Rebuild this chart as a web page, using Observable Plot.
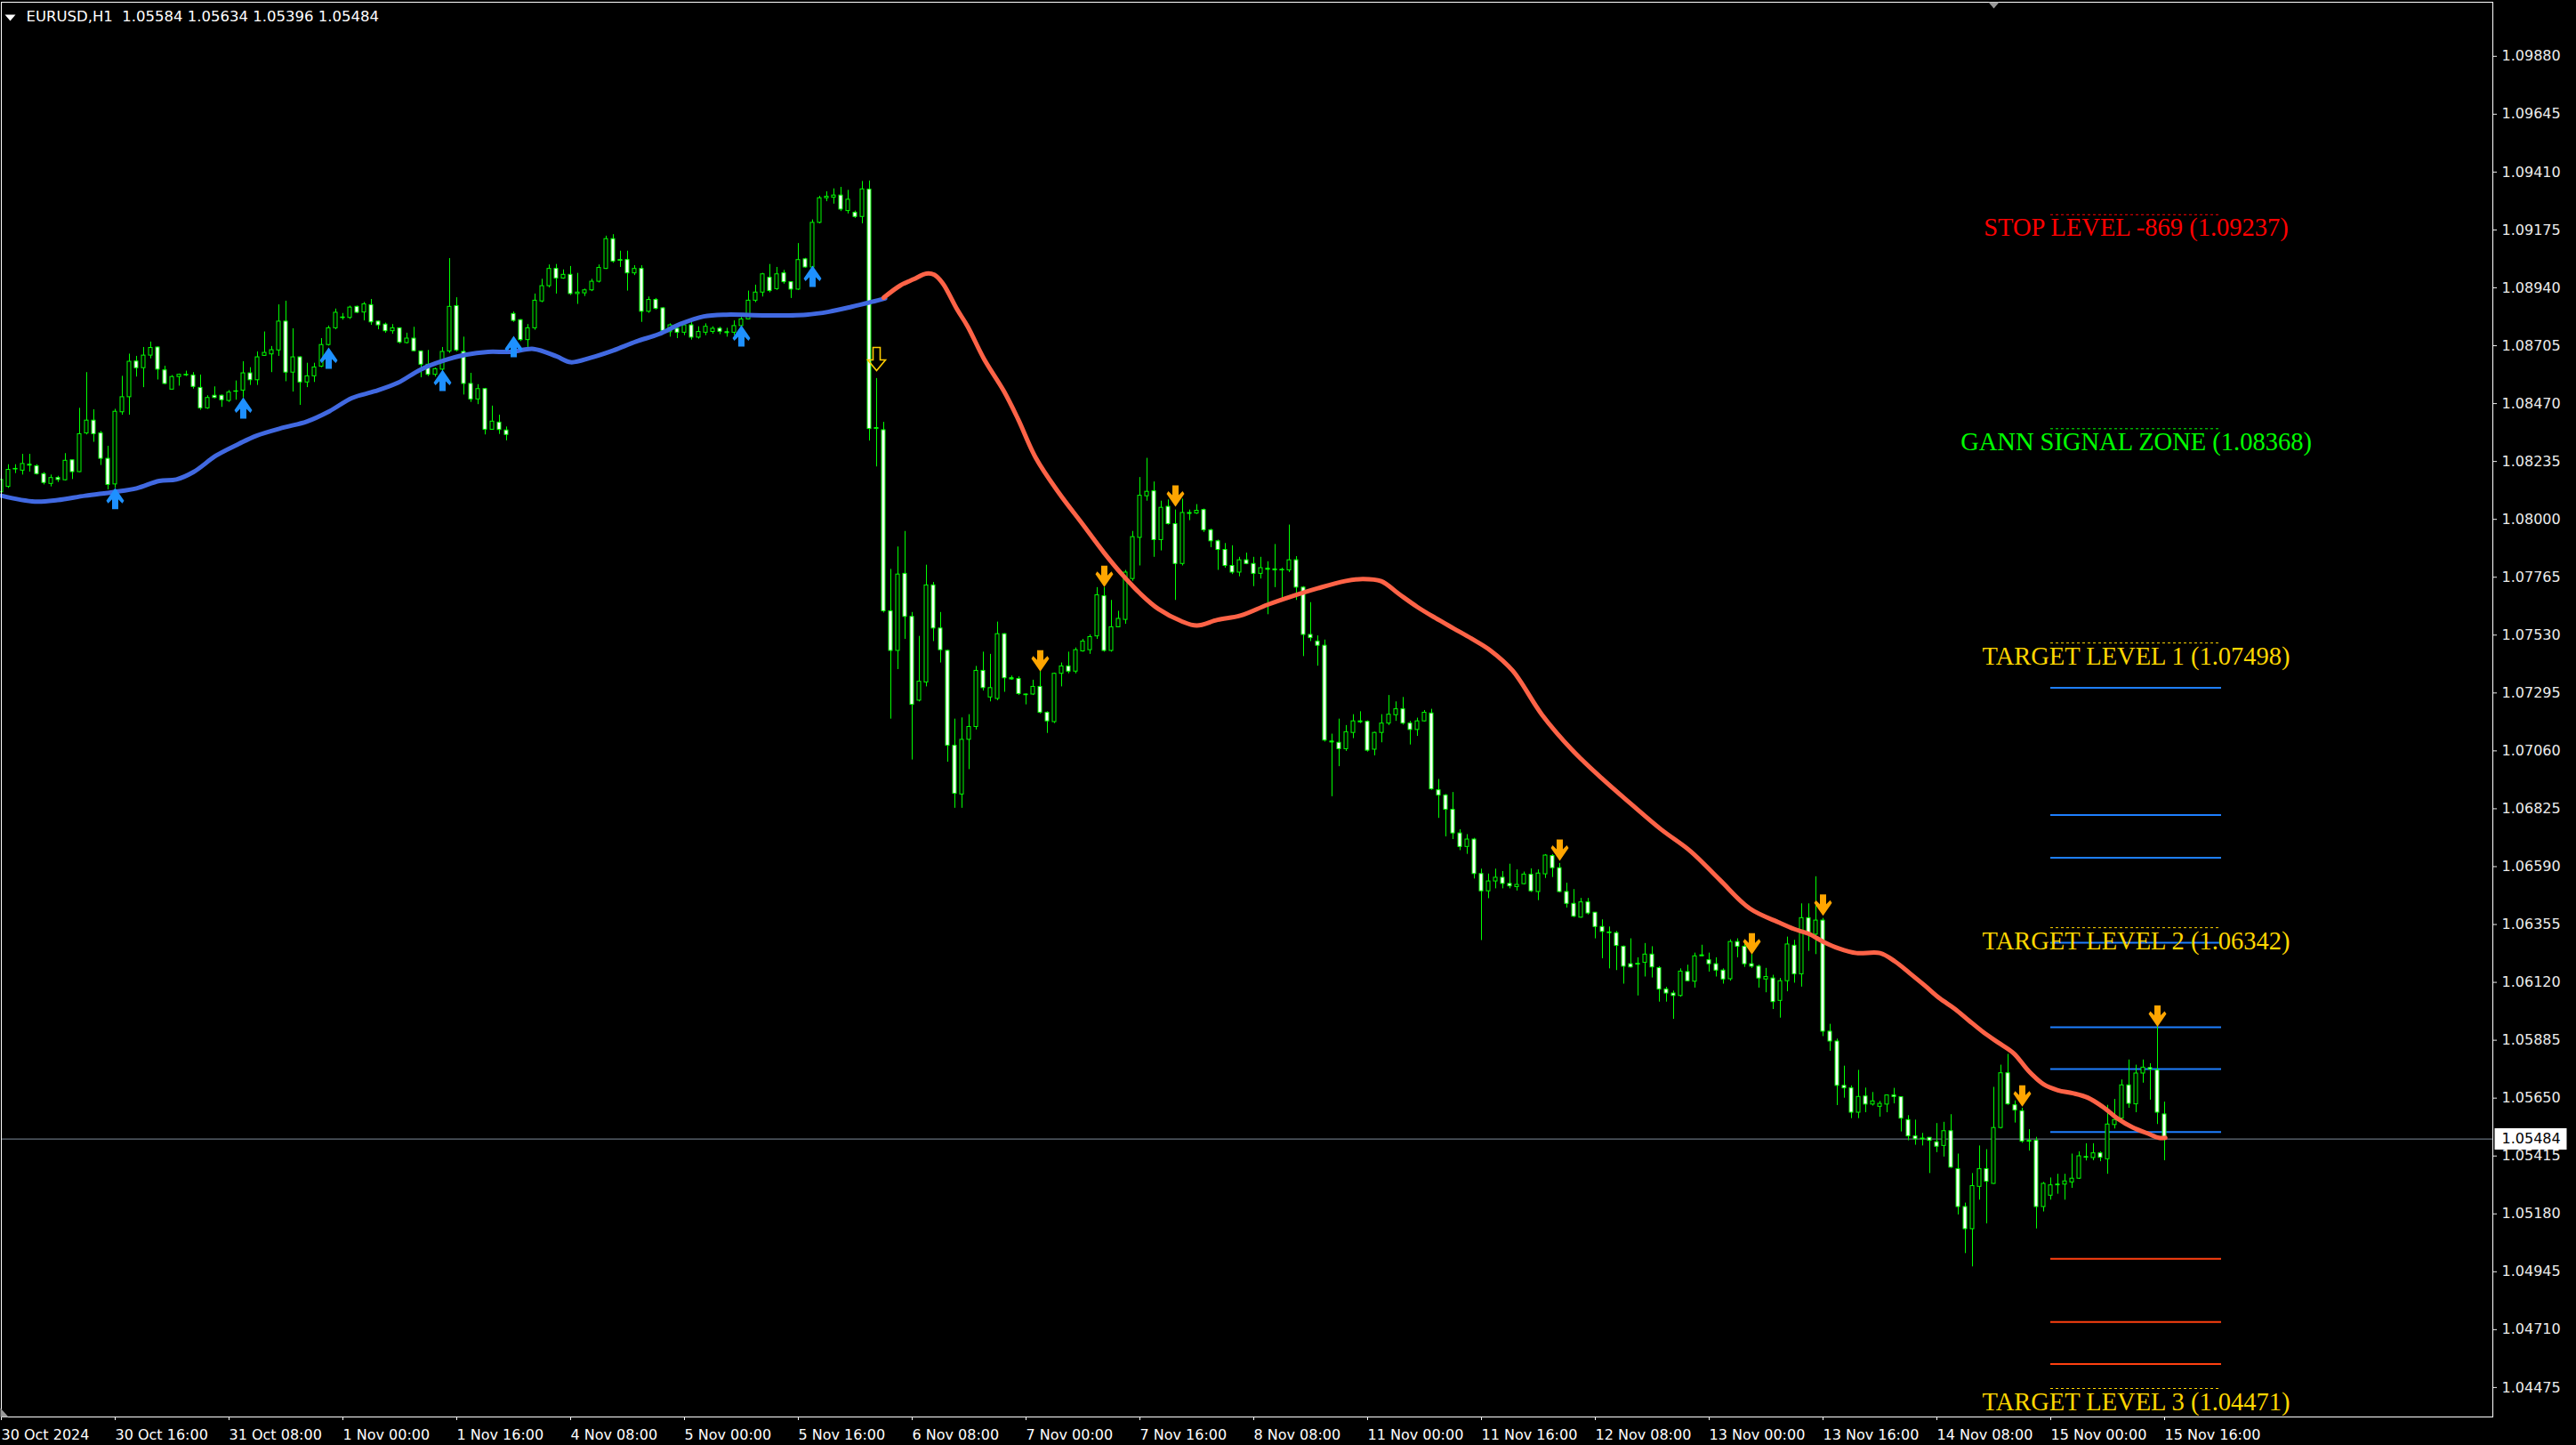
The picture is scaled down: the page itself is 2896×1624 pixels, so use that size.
<!DOCTYPE html>
<html><head><meta charset="utf-8">
<script src="https://cdn.jsdelivr.net/npm/d3@7"></script>
<script src="https://cdn.jsdelivr.net/npm/@observablehq/plot@0.6"></script>
<style>html,body{margin:0;padding:0;background:#000;overflow:hidden}</style>
</head><body><div id="chart"></div>
<script>
const symbolName = "EURUSD,H1";

const opens = [
1.08110,1.08132,1.08204,1.08198,1.08222,1.08216,1.08184,1.08144,1.08168,1.08159,
1.08240,1.08192,1.08349,1.08401,1.08349,1.08246,1.08142,1.08435,1.08496,1.08641,
1.08614,1.08665,1.08698,1.08605,1.08527,1.08578,1.08586,1.08584,1.08534,1.08451,
1.08502,1.08502,1.08481,1.08519,1.08523,1.08593,1.08565,1.08664,1.08670,1.08686,
1.08803,1.08596,1.08658,1.08556,1.08581,1.08620,1.08708,1.08776,1.08818,1.08818,
1.08863,1.08840,1.08870,1.08803,1.08791,1.08764,1.08776,1.08716,1.08734,1.08682,
1.08628,1.08587,1.08608,1.08682,1.08866,1.08680,1.08550,1.08487,1.08529,1.08364,
1.08393,1.08361,1.08834,1.08809,1.08728,1.08776,1.08885,1.08947,1.09017,1.08978,
1.08993,1.08915,1.08918,1.08930,1.08965,1.09017,1.09138,1.09050,1.09053,1.08999,
1.09017,1.08843,1.08891,1.08857,1.08760,1.08774,1.08758,1.08788,1.08738,1.08758,
1.08761,1.08774,1.08760,1.08758,1.08785,1.08812,1.08888,1.08921,1.08981,1.08935,
1.08999,1.08963,1.08933,1.09056,1.09023,1.09204,1.09304,1.09306,1.09315,1.09252,
1.09245,1.09228,1.09339,1.08367,1.08362,1.07627,1.07466,1.07779,1.07604,1.07264,
1.07338,1.07732,1.07557,1.07466,1.07081,1.06883,1.07105,1.07157,1.07385,1.07277,
1.07271,1.07534,1.07355,1.07352,1.07289,1.07289,1.07320,1.07215,1.07177,1.07373,
1.07403,1.07382,1.07464,1.07469,1.07525,1.07688,1.07466,1.07562,1.07592,1.07758,
1.07925,1.08094,1.08114,1.07916,1.08051,1.07981,1.07819,1.08026,1.08024,1.08038,
1.07956,1.07911,1.07876,1.07811,1.07784,1.07834,1.07819,1.07779,1.07800,1.07797,
1.07793,1.07793,1.07834,1.07723,1.07531,1.07504,1.07487,1.07098,1.07093,1.07067,
1.07133,1.07180,1.07178,1.07065,1.07133,1.07171,1.07205,1.07229,1.07171,1.07145,
1.07180,1.07212,1.06900,1.06879,1.06821,1.06725,1.06670,1.06700,1.06560,1.06490,
1.06530,1.06545,1.06520,1.06507,1.06519,1.06557,1.06487,1.06559,1.06633,1.06584,
1.06487,1.06439,1.06383,1.06445,1.06403,1.06345,1.06323,1.06320,1.06265,1.06194,
1.06196,1.06200,1.06233,1.06178,1.06091,1.06075,1.06065,1.06162,1.06123,1.06230,
1.06210,1.06194,1.06168,1.06133,1.06284,1.06265,1.06194,1.06184,1.06132,1.06136,
1.06045,1.06125,1.06269,1.06153,1.06381,1.06314,1.06371,1.05920,1.05880,1.05700,
1.05690,1.05591,1.05657,1.05624,1.05615,1.05624,1.05661,1.05654,1.05561,1.05495,
1.05486,1.05489,1.05471,1.05456,1.05516,1.05362,1.05208,1.05118,1.05290,1.05362,
1.05302,1.05529,1.05751,1.05621,1.05597,1.05477,1.05477,1.05208,1.05254,1.05299,
1.05299,1.05308,1.05323,1.05411,1.05407,1.05426,1.05402,1.05541,1.05567,1.05702,
1.05625,1.05750,1.05772,1.05763,1.05584];

const highs = [
1.08185,1.08222,1.08222,1.08264,1.08264,1.08222,1.08190,1.08180,1.08175,1.08267,
1.08240,1.08451,1.08596,1.08445,1.08357,1.08297,1.08447,1.08581,1.08671,1.08662,
1.08698,1.08720,1.08700,1.08622,1.08584,1.08590,1.08602,1.08596,1.08586,1.08502,
1.08538,1.08505,1.08523,1.08562,1.08640,1.08616,1.08680,1.08761,1.08702,1.08871,
1.08886,1.08774,1.08660,1.08634,1.08634,1.08734,1.08785,1.08854,1.08836,1.08866,
1.08866,1.08881,1.08893,1.08805,1.08797,1.08791,1.08778,1.08756,1.08780,1.08684,
1.08686,1.08614,1.08698,1.09059,1.08900,1.08740,1.08593,1.08547,1.08532,1.08460,
1.08423,1.08375,1.08842,1.08811,1.08791,1.08915,1.08975,1.09033,1.09035,1.09013,
1.09027,1.08999,1.08935,1.08975,1.09033,1.09150,1.09156,1.09089,1.09089,1.09030,
1.09030,1.08903,1.08897,1.08860,1.08794,1.08788,1.08800,1.08800,1.08782,1.08794,
1.08782,1.08780,1.08776,1.08806,1.08820,1.08927,1.08951,1.08999,1.09035,1.09023,
1.09011,1.08965,1.09120,1.09060,1.09216,1.09312,1.09330,1.09342,1.09348,1.09336,
1.09252,1.09372,1.09374,1.08572,1.08394,1.07797,1.07888,1.07951,1.07622,1.07525,
1.07814,1.07744,1.07622,1.07469,1.07189,1.07194,1.07207,1.07403,1.07461,1.07452,
1.07583,1.07536,1.07364,1.07361,1.07291,1.07347,1.07382,1.07219,1.07376,1.07417,
1.07461,1.07478,1.07513,1.07531,1.07723,1.07723,1.07671,1.07627,1.07793,1.07951,
1.08170,1.08248,1.08152,1.08074,1.08079,1.08038,1.08082,1.08038,1.08060,1.08042,
1.07960,1.07916,1.07902,1.07893,1.07846,1.07863,1.07846,1.07846,1.07828,1.07898,
1.07802,1.07977,1.07849,1.07727,1.07662,1.07527,1.07510,1.07128,1.07189,1.07163,
1.07207,1.07219,1.07182,1.07136,1.07207,1.07285,1.07259,1.07277,1.07180,1.07193,
1.07224,1.07229,1.06944,1.06883,1.06891,1.06740,1.06720,1.06705,1.06580,1.06560,
1.06580,1.06570,1.06600,1.06577,1.06568,1.06581,1.06577,1.06639,1.06639,1.06603,
1.06523,1.06497,1.06461,1.06461,1.06404,1.06374,1.06345,1.06327,1.06268,1.06297,
1.06220,1.06278,1.06265,1.06184,1.06100,1.06085,1.06175,1.06190,1.06239,1.06271,
1.06239,1.06220,1.06175,1.06293,1.06297,1.06278,1.06233,1.06190,1.06177,1.06149,
1.06136,1.06304,1.06291,1.06439,1.06439,1.06549,1.06380,1.05950,1.05890,1.05780,
1.05700,1.05763,1.05691,1.05673,1.05637,1.05663,1.05690,1.05655,1.05579,1.05561,
1.05507,1.05489,1.05547,1.05552,1.05583,1.05423,1.05224,1.05344,1.05456,1.05441,
1.05694,1.05784,1.05828,1.05639,1.05609,1.05522,1.05491,1.05308,1.05326,1.05341,
1.05341,1.05423,1.05432,1.05465,1.05465,1.05432,1.05621,1.05645,1.05724,1.05805,
1.05784,1.05805,1.05790,1.05940,1.05634];

const lows = [
1.08095,1.08126,1.08186,1.08180,1.08192,1.08180,1.08140,1.08132,1.08150,1.08156,
1.08162,1.08190,1.08343,1.08313,1.08219,1.08120,1.08126,1.08423,1.08423,1.08578,
1.08535,1.08652,1.08566,1.08547,1.08527,1.08541,1.08580,1.08529,1.08443,1.08447,
1.08490,1.08455,1.08475,1.08484,1.08493,1.08544,1.08544,1.08662,1.08596,1.08662,
1.08559,1.08517,1.08463,1.08535,1.08556,1.08616,1.08704,1.08770,1.08809,1.08812,
1.08836,1.08806,1.08788,1.08770,1.08756,1.08752,1.08712,1.08712,1.08680,1.08575,
1.08580,1.08578,1.08602,1.08674,1.08680,1.08505,1.08475,1.08466,1.08343,1.08363,
1.08345,1.08319,1.08800,1.08722,1.08698,1.08768,1.08880,1.08940,1.08915,1.08975,
1.08909,1.08873,1.08905,1.08925,1.08960,1.09015,1.09040,1.09023,1.08927,1.08990,
1.08800,1.08837,1.08850,1.08760,1.08740,1.08734,1.08746,1.08728,1.08732,1.08746,
1.08752,1.08750,1.08740,1.08746,1.08785,1.08810,1.08880,1.08903,1.08920,1.08930,
1.08955,1.08897,1.08930,1.09020,1.09023,1.09200,1.09290,1.09280,1.09250,1.09240,
1.09222,1.09200,1.08318,1.08213,1.07620,1.07189,1.07390,1.07513,1.07023,1.07259,
1.07320,1.07504,1.07417,1.07014,1.06827,1.06827,1.06984,1.07145,1.07303,1.07259,
1.07264,1.07298,1.07347,1.07285,1.07247,1.07285,1.07210,1.07131,1.07171,1.07320,
1.07373,1.07373,1.07461,1.07452,1.07513,1.07461,1.07461,1.07560,1.07574,1.07749,
1.07811,1.08074,1.07846,1.07872,1.07977,1.07671,1.07811,1.07995,1.08020,1.07947,
1.07885,1.07793,1.07802,1.07776,1.07767,1.07816,1.07727,1.07758,1.07613,1.07723,
1.07679,1.07784,1.07671,1.07443,1.07504,1.07404,1.07096,1.06874,1.06996,1.07058,
1.07110,1.07171,1.07055,1.07040,1.07093,1.07163,1.07180,1.07165,1.07084,1.07119,
1.07178,1.06900,1.06786,1.06711,1.06700,1.06655,1.06640,1.06540,1.06290,1.06460,
1.06500,1.06500,1.06500,1.06491,1.06516,1.06485,1.06452,1.06542,1.06546,1.06484,
1.06422,1.06383,1.06381,1.06394,1.06297,1.06216,1.06175,1.06168,1.06113,1.06178,
1.06065,1.06142,1.06138,1.06040,1.06040,1.05970,1.06060,1.06123,1.06097,1.06226,
1.06162,1.06142,1.06113,1.06125,1.06220,1.06181,1.06177,1.06097,1.06078,1.06010,
1.05975,1.06082,1.06117,1.06101,1.06246,1.06233,1.05900,1.05840,1.05620,1.05650,
1.05567,1.05567,1.05591,1.05618,1.05573,1.05591,1.05627,1.05513,1.05477,1.05459,
1.05456,1.05344,1.05429,1.05411,1.05365,1.05176,1.05019,1.04965,1.05236,1.05140,
1.05300,1.05525,1.05621,1.05549,1.05467,1.05435,1.05119,1.05188,1.05236,1.05260,
1.05236,1.05284,1.05320,1.05395,1.05396,1.05392,1.05341,1.05525,1.05549,1.05609,
1.05591,1.05711,1.05642,1.05543,1.05396];

const closes = [
1.08160,1.08201,1.08205,1.08225,1.08220,1.08184,1.08148,1.08168,1.08160,1.08238,
1.08192,1.08346,1.08401,1.08346,1.08246,1.08140,1.08437,1.08496,1.08640,1.08614,
1.08665,1.08696,1.08608,1.08550,1.08578,1.08587,1.08587,1.08538,1.08451,1.08493,
1.08493,1.08484,1.08515,1.08520,1.08593,1.08565,1.08658,1.08676,1.08687,1.08803,
1.08596,1.08658,1.08556,1.08581,1.08617,1.08708,1.08776,1.08839,1.08820,1.08860,
1.08839,1.08873,1.08800,1.08788,1.08764,1.08776,1.08718,1.08734,1.08683,1.08628,
1.08587,1.08610,1.08680,1.08863,1.08686,1.08550,1.08487,1.08529,1.08364,1.08397,
1.08363,1.08343,1.08806,1.08728,1.08776,1.08888,1.08947,1.09017,1.08978,1.08993,
1.08915,1.08921,1.08930,1.08965,1.09021,1.09138,1.09047,1.09053,1.08999,1.09017,
1.08843,1.08891,1.08855,1.08765,1.08788,1.08758,1.08788,1.08738,1.08761,1.08782,
1.08774,1.08762,1.08758,1.08785,1.08812,1.08888,1.08921,1.08995,1.08927,1.08995,
1.08963,1.08933,1.09053,1.09023,1.09204,1.09304,1.09310,1.09315,1.09258,1.09298,
1.09228,1.09340,1.08367,1.08371,1.07627,1.07466,1.07776,1.07604,1.07247,1.07341,
1.07732,1.07557,1.07469,1.07081,1.06886,1.07105,1.07157,1.07385,1.07315,1.07315,
1.07534,1.07355,1.07352,1.07291,1.07288,1.07320,1.07215,1.07180,1.07373,1.07403,
1.07382,1.07469,1.07504,1.07522,1.07692,1.07466,1.07562,1.07596,1.07784,1.07928,
1.08096,1.08112,1.07916,1.08047,1.07981,1.07819,1.08026,1.08024,1.08035,1.07956,
1.07911,1.07876,1.07811,1.07784,1.07834,1.07819,1.07779,1.07802,1.07797,1.07793,
1.07795,1.07834,1.07723,1.07531,1.07518,1.07487,1.07102,1.07096,1.07067,1.07136,
1.07180,1.07178,1.07061,1.07133,1.07171,1.07207,1.07229,1.07171,1.07145,1.07180,
1.07215,1.06904,1.06879,1.06821,1.06725,1.06670,1.06700,1.06560,1.06490,1.06530,
1.06545,1.06520,1.06510,1.06516,1.06558,1.06490,1.06562,1.06635,1.06584,1.06487,
1.06439,1.06387,1.06445,1.06400,1.06345,1.06325,1.06322,1.06268,1.06184,1.06181,
1.06194,1.06233,1.06181,1.06091,1.06075,1.06065,1.06164,1.06125,1.06226,1.06228,
1.06194,1.06168,1.06132,1.06284,1.06265,1.06194,1.06184,1.06136,1.06142,1.06040,
1.06125,1.06274,1.06153,1.06381,1.06317,1.06371,1.05920,1.05880,1.05700,1.05690,
1.05591,1.05655,1.05624,1.05637,1.05627,1.05661,1.05655,1.05567,1.05495,1.05483,
1.05485,1.05477,1.05453,1.05516,1.05368,1.05208,1.05118,1.05293,1.05362,1.05311,
1.05529,1.05751,1.05625,1.05600,1.05474,1.05475,1.05208,1.05302,1.05296,1.05298,
1.05312,1.05323,1.05414,1.05410,1.05426,1.05408,1.05543,1.05561,1.05702,1.05627,
1.05750,1.05774,1.05766,1.05591,1.05484];

// moving average (bar position, price)
const maBlueBars = [0,4.7,7.9,11.8,15.8,19.0,22.2,24.6,27.0,30.2,33.4,35.8,39.7,42.9,46.1,49.3,52.5,55.7,58.9,62.1,65.2,68.4,71.6,74.8,78.0,80.0,82.8,86.0,89.2,92.4,95.5,98.7,101.9,107.5,113.1,116.3,119.5,122.6,124.2];
const maBlueVals = [1.08096,1.08072,1.08078,1.08096,1.08111,1.08126,1.08156,1.08162,1.08192,1.08259,1.08307,1.08339,1.08373,1.08397,1.08439,1.08493,1.08520,1.08554,1.08608,1.08644,1.08668,1.08680,1.08680,1.08692,1.08662,1.08638,1.08656,1.08686,1.08722,1.08752,1.08794,1.08824,1.08831,1.08828,1.08831,1.08843,1.08863,1.08885,1.08897];
const maRedBars = [124.0,126.3,128.2,130.0,131.1,132.3,134.3,135.8,138.1,140.9,142.9,145.4,148.6,151.8,155.0,157.5,160.1,162.6,165.8,168.0,170.9,174.1,177.9,181.1,185.0,188.8,191.3,193.9,196.4,199.0,201.5,204.1,206.6,209.2,212.4,216.5,220.7,224.9,229.0,233.2,237.4,241.5,245.7,249.9,252.0,254.0,256.1,258.2,260.7,264.0,266.1,268.2,270.3,272.4,274.5,276.5,278.6,280.7,282.8,284.9,287.0,289.0,291.1,293.2,295.3,297.4,299.5,301.6,303.2,304.1];
const maRedVals = [1.08900,1.08949,1.08975,1.08998,1.08993,1.08958,1.08853,1.08783,1.08651,1.08520,1.08406,1.08248,1.08108,1.07986,1.07863,1.07776,1.07697,1.07636,1.07587,1.07569,1.07592,1.07609,1.07653,1.07685,1.07720,1.07749,1.07758,1.07749,1.07697,1.07644,1.07600,1.07557,1.07516,1.07469,1.07385,1.07207,1.07065,1.06949,1.06845,1.06742,1.06652,1.06536,1.06420,1.06362,1.06336,1.06317,1.06284,1.06258,1.06239,1.06239,1.06205,1.06157,1.06107,1.06055,1.06013,1.05965,1.05916,1.05874,1.05832,1.05760,1.05706,1.05682,1.05670,1.05652,1.05615,1.05567,1.05531,1.05507,1.05489,1.05489];

// signal arrows
const upArrowBars = [16,34,46,62,72,104,114];
const upArrowTips = [1.08128,1.08496,1.08698,1.08608,1.08745,1.08788,1.09030];
const downArrowBars = [146,155,165,219,246,256,284,303];
const downArrowTips = [1.07382,1.07725,1.08051,1.06613,1.06233,1.06390,1.05615,1.05940];
const hollowArrowBars = [123];
const hollowArrowTips = [1.08604];

// level objects
const levelNames = ["STOP LEVEL -869 (1.09237)","GANN SIGNAL ZONE (1.08368)","TARGET LEVEL 1 (1.07498)","TARGET LEVEL 2 (1.06342)","TARGET LEVEL 3 (1.04471)"];
const levelPrices = [1.09237,1.08368,1.07498,1.06342,1.04471];
const levelColors = ["#ff0000","#00ff00","#ffd700","#ffd700","#ffd700"];
const blueLevels = [1.07316,1.06799,1.06626,1.06281,1.05938,1.05768,1.05512];
const redLevels = [1.04998,1.04741,1.04570];
const levelSpan = [288,312];

// axes
const yTicks = [1.04475,1.04710,1.04945,1.05180,1.05415,1.05650,1.05885,1.06120,1.06355,1.06590,1.06825,1.07060,1.07295,1.07530,1.07765,1.08000,1.08235,1.08470,1.08705,1.08940,1.09175,1.09410,1.09645,1.09880];
const xTickBars = [0,16,32,48,64,80,96,112,128,144,160,176,192,208,224,240,256,272,288,304];
const xTickLabels = ["30 Oct 2024","30 Oct 16:00","31 Oct 08:00","1 Nov 00:00","1 Nov 16:00","4 Nov 08:00","5 Nov 00:00","5 Nov 16:00","6 Nov 08:00","7 Nov 00:00","7 Nov 16:00","8 Nov 08:00","11 Nov 00:00","11 Nov 16:00","12 Nov 08:00","13 Nov 00:00","13 Nov 16:00","14 Nov 08:00","15 Nov 00:00","15 Nov 16:00"];
const chartShiftBar = 280;

// ---- build tables
const bars = opens.map((o, i) => ({i, open: o, high: highs[i], low: lows[i], close: closes[i]}));
const bull = bars.filter(d => d.close > d.open);
const bear = bars.filter(d => d.close < d.open);
const doji = bars.filter(d => Math.abs(d.close - d.open) < 0.00004);
const maBlue = maBlueBars.map((b, k) => ({b, v: maBlueVals[k]}));
const maRed = maRedBars.map((b, k) => ({b, v: maRedVals[k]}));
const upArrows = upArrowBars.map((b, k) => ({b, p: upArrowTips[k]}));
const downArrows = downArrowBars.map((b, k) => ({b, p: downArrowTips[k]}));
const hollowArrows = hollowArrowBars.map((b, k) => ({b, p: hollowArrowTips[k]}));
const levels = levelNames.map((n, k) => ({name: n, price: levelPrices[k], color: levelColors[k]}));
const xLabelOf = new Map(xTickBars.map((b, k) => [b, xTickLabels[k]]));
const last = bars[bars.length - 1];
const fmt = v => v.toFixed(5);
const title = symbolName + "\u00a0\u00a0" + [last.open, last.high, last.low, last.close].map(fmt).join(" ");

// ---- symbols
function poly(ctx, pts, k) {
  ctx.moveTo(pts[0][0] * k, pts[0][1] * k);
  for (let j = 1; j < pts.length; j++) ctx.lineTo(pts[j][0] * k, pts[j][1] * k);
  ctx.closePath();
}
const downPts = [[-3.5,-12],[3.5,-12],[3.5,-1],[8,-5.5],[10,-2.5],[0,12],[-10,-2.5],[-8,-5.5],[-3.5,-1]];
const arrowDown = {draw(ctx, size) { poly(ctx, downPts, Math.sqrt(size / Math.PI) / 10); }};
const arrowUp = {draw(ctx, size) { poly(ctx, downPts.map(([x, y]) => [x, -y]), Math.sqrt(size / Math.PI) / 10); }};
const arrowHollow = {draw(ctx, size) { poly(ctx, [[-4,-13],[4,-13],[4,1],[10,1],[0,13],[-10,1],[-4,1]], Math.sqrt(size / Math.PI) / 10); }};
const priceBox = {draw(ctx) { ctx.rect(-40.5, -12, 81, 24); }};
const shiftTri = {draw(ctx) { poly(ctx, [[-6,0],[6,0],[0,7]], 1); }};
const cornerTri = {draw(ctx) { poly(ctx, [[0,-10],[9,0],[0,0]], 1); }};

const LIME = "#00ff00";
const serif = "Liberation Serif, Times New Roman, serif";

const marks = [
  // current price line
  Plot.ruleY([last.close], {stroke: "#7f8c9c", strokeWidth: 1}),
  // level lines
  Plot.ruleY(blueLevels, {y: d => d, x1: levelSpan[0], x2: levelSpan[1], stroke: "#1e7fff", strokeWidth: 2}),
  Plot.ruleY(redLevels, {y: d => d, x1: levelSpan[0], x2: levelSpan[1], stroke: "#ff4010", strokeWidth: 2}),
  ...levels.map(l => Plot.ruleY([l.price], {x1: levelSpan[0], x2: levelSpan[1], stroke: l.color, strokeWidth: 1, strokeDasharray: "3,3"})),
  ...levels.map(l => Plot.text([l], {x: (levelSpan[0] + levelSpan[1]) / 2, y: "price", text: "name", fill: l.color,
      dy: 24, lineAnchor: "bottom", textAnchor: "middle", fontFamily: serif, fontSize: 28.5})),
  // candles
  Plot.ruleX(bars, {x: "i", y1: "low", y2: "high", stroke: LIME, strokeWidth: 1}),
  Plot.rect(bull, {x1: d => d.i - 0.25, x2: d => d.i + 0.25, y1: "open", y2: "close", fill: "black", stroke: LIME, strokeWidth: 1}),
  Plot.rect(bear, {x1: d => d.i - 0.25, x2: d => d.i + 0.25, y1: "open", y2: "close", fill: "white", stroke: LIME, strokeWidth: 1}),
  Plot.ruleY(doji, {y: "close", x1: d => d.i - 0.3, x2: d => d.i + 0.3, stroke: LIME, strokeWidth: 1}),
  // moving average
  Plot.line(maBlue, {x: "b", y: "v", stroke: "#4169e1", strokeWidth: 5, curve: "catmull-rom", strokeLinecap: "round"}),
  Plot.line(maRed, {x: "b", y: "v", stroke: "#ff6347", strokeWidth: 5, curve: "catmull-rom", strokeLinecap: "round"}),
  // arrows
  Plot.dot(upArrows, {x: "b", y: "p", r: 10, symbol: arrowUp, fill: "#1e90ff", stroke: "none", dy: 12}),
  Plot.dot(downArrows, {x: "b", y: "p", r: 10, symbol: arrowDown, fill: "#ffa500", stroke: "none", dy: -12}),
  Plot.dot(hollowArrows, {x: "b", y: "p", r: 10, symbol: arrowHollow, fill: "none", stroke: "#ffcc00", strokeWidth: 1.6, dy: -13}),
  // frame + axes
  Plot.frame({stroke: "#ffffff", strokeWidth: 1}),
  Plot.axisY(yTicks, {anchor: "right", tickFormat: fmt, tickSize: 4, tickPadding: 6, color: "#ececec", fontSize: 16, label: null}),
  Plot.axisX(xTickBars, {anchor: "bottom", tickFormat: d => xLabelOf.get(d), tickSize: 4, tickPadding: 10, textAnchor: "start", color: "#ffffff", fontSize: 16, label: null}),
  // current price tag
  Plot.dot([last.close], {y: d => d, frameAnchor: "right", dx: 42.5, r: 10, symbol: priceBox, fill: "white", stroke: "none"}),
  Plot.text([last.close], {y: d => d, frameAnchor: "right", dx: 10, text: fmt, textAnchor: "start", fill: "black", fontSize: 16}),
  // MT4 markers
  Plot.dot([chartShiftBar], {x: d => d, frameAnchor: "top", r: 6, symbol: shiftTri, fill: "#9a9a9a", stroke: "none"}),
  Plot.dot([0], {x: d => d, frameAnchor: "bottom", r: 6, symbol: cornerTri, fill: "#9a9a9a", stroke: "none", dx: -1}),
  // header
  Plot.dot([0], {frameAnchor: "top-left", dx: 10, dy: 14, r: 6, symbol: shiftTri, fill: "white", stroke: "none"}),
  Plot.text([title], {frameAnchor: "top-left", dx: 28, dy: 21, lineAnchor: "bottom", textAnchor: "start", fill: "white", fontSize: 16.5})
];

const chart = Plot.plot({
  width: 2896,
  height: 1624,
  marginLeft: 1,
  marginRight: 94,
  marginTop: 2,
  marginBottom: 32,
  style: {background: "#000", color: "#fff", fontFamily: "DejaVu Sans, Verdana, sans-serif", fontSize: "16px"},
  x: {type: "linear", domain: [0, 350.125], label: null, axis: null},
  y: {type: "linear", domain: [1.0435543, 1.1009965], label: null, axis: null},
  marks
});
document.getElementById("chart").appendChild(chart);
</script>
</body></html>
